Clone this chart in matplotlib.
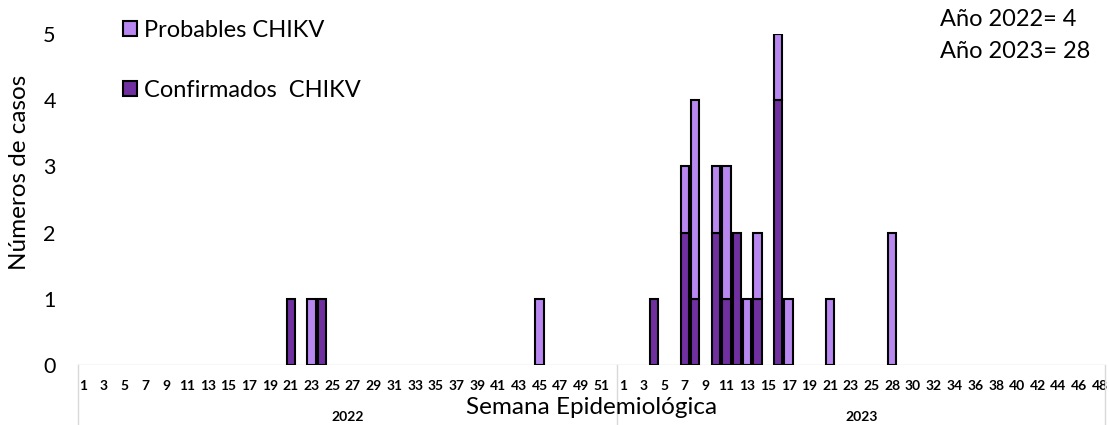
import numpy as np
import matplotlib
matplotlib.use("Agg")
import matplotlib.pyplot as plt
from matplotlib.transforms import blended_transform_factory

plt.rcParams['font.family'] = ['Lato', 'DejaVu Sans']

# Epidemiological weeks on the category axis for each year
weeks_2022 = list(range(1, 53))
weeks_2023 = list(range(1, 26)) + list(range(27, 49))

# Cases per epidemiological week (weeks without cases omitted)
conf_2022_weeks = [21, 24]
conf_2022_cases = [1, 1]
prob_2022_weeks = [23, 45]
prob_2022_cases = [1, 1]

conf_2023_weeks = [4, 7, 8, 10, 11, 12, 14, 16]
conf_2023_cases = [1, 2, 1, 2, 1, 2, 1, 4]
prob_2023_weeks = [7, 8, 10, 11, 13, 14, 16, 17, 21, 28]
prob_2023_cases = [1, 3, 1, 2, 1, 1, 1, 1, 1, 2]

years = ["2022", "2023"]
series_labels = ["Probables CHIKV", "Confirmados  CHIKV"]

color_prob = "#B887F0"
color_conf = "#7030A0"
grey = "#D9D9D9"


def weekly(weeks_axis, weeks, cases):
    out = np.zeros(len(weeks_axis))
    for w, c in zip(weeks, cases):
        out[weeks_axis.index(w)] = c
    return out


conf_22 = weekly(weeks_2022, conf_2022_weeks, conf_2022_cases)
conf_23 = weekly(weeks_2023, conf_2023_weeks, conf_2023_cases)
prob_22 = weekly(weeks_2022, prob_2022_weeks, prob_2022_cases)
prob_23 = weekly(weeks_2023, prob_2023_weeks, prob_2023_cases)

confirmed = np.concatenate([conf_22, conf_23])
probable = np.concatenate([prob_22, prob_23])
n22, n23 = len(weeks_2022), len(weeks_2023)
x = np.arange(n22 + n23)

W, H = 1109, 425
fig = plt.figure(figsize=(W / 100, H / 100), dpi=100)
ax = fig.add_axes([78 / W, 60 / H, 1027 / W, 331 / H])

mc = confirmed > 0
bc = ax.bar(x[mc], confirmed[mc], width=0.8, color=color_conf,
            edgecolor="black", linewidth=1.5, zorder=3)
mp = probable > 0
bp = ax.bar(x[mp], probable[mp], bottom=confirmed[mp], width=0.8,
            color=color_prob, edgecolor="black", linewidth=1.5, zorder=3)

ax.set_xlim(-0.5, n22 + n23 - 0.5)
ax.set_ylim(0, 5)
ax.set_yticks(range(6))
ax.tick_params(axis="y", length=0, pad=16, labelsize=15.5)

tick_pos = list(range(0, n22, 2)) + [n22 + i for i in range(0, n23, 2)]
tick_lab = [str(weeks_2022[i]) for i in range(0, n22, 2)] + \
           [str(weeks_2023[i]) for i in range(0, n23, 2)]
ax.set_xticks(tick_pos, tick_lab, fontweight="bold", fontsize=10)
ax.tick_params(axis="x", length=0, pad=11)
for s in ax.spines.values():
    s.set_visible(False)

# multi-level category axis frame
ax.axhline(0, color=grey, lw=1, zorder=1)
trans = blended_transform_factory(ax.transData, ax.transAxes)
depth = -60 / 331
for xb in [-0.5, n22 - 0.5, n22 + n23 - 0.5]:
    ax.plot([xb, xb], [0, depth], transform=trans, color=grey, lw=1,
            clip_on=False)

ax.text((n22 - 1) / 2, -52 / 331, years[0], transform=trans, ha="center",
        va="center", fontsize=10, fontweight="bold")
ax.text(n22 + (n23 - 1) / 2, -52 / 331, years[1], transform=trans,
        ha="center", va="center", fontsize=10, fontweight="bold")
ax.text(0.5, -42 / 331, "Semana Epidemiológica", transform=ax.transAxes,
        ha="center", va="center", fontsize=17.5)
fig.text(20 / W, 1 - 172 / H, "Números de casos", rotation=90,
         ha="center", va="center", fontsize=17.5)

ax.legend([bp, bc], series_labels, loc="upper left",
          bbox_to_anchor=(123 / W, 1 - 20 / H), bbox_transform=fig.transFigure,
          frameon=False, fontsize=17, handlelength=0.6, handleheight=0.6,
          handletextpad=0.3, labelspacing=1.65, borderpad=0, borderaxespad=0)

total_22 = int(conf_22.sum() + prob_22.sum())
total_23 = int(conf_23.sum() + prob_23.sum())
fig.text(940 / W, 1 - 20 / H, f"Año {years[0]}= {total_22}", fontsize=17,
         va="center", ha="left")
fig.text(940 / W, 1 - 52 / H, f"Año {years[1]}= {total_23}", fontsize=17,
         va="center", ha="left")

fig.savefig("out.png", dpi=100)
